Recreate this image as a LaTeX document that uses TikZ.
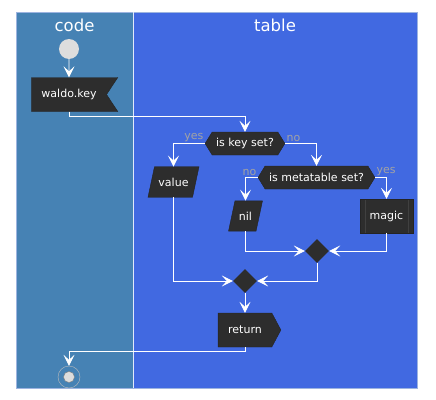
\documentclass[tikz,border=0pt]{standalone}
\usepackage{fontspec}
\setmainfont{DejaVu Sans}
\usetikzlibrary{arrows.meta,positioning,shapes.geometric,shapes.symbols}
\definecolor{CodeLane}{HTML}{4682B4}
\definecolor{TableLane}{HTML}{4169E1}
\definecolor{LaneEdge}{HTML}{9DB4E0}
\definecolor{BoxFill}{HTML}{2D2D2D}
\definecolor{Muted}{HTML}{A3A3A3}
\definecolor{Dot}{HTML}{DDDDDD}

\begin{document}
\begin{tikzpicture}[x=1pt, y=-1pt,
    box/.style={fill=BoxFill, draw=BoxFill!80!black, text=white,
      font=\fontsize{11}{12}\selectfont, minimum height=34pt,
      inner xsep=10pt, inner ysep=0pt},
    decision/.style={box, signal, signal to=west and east,
      signal pointer angle=117, minimum height=23pt, inner xsep=4pt},
    data/.style={box, trapezium, trapezium left angle=78,
      trapezium right angle=102, minimum height=0pt, inner ysep=11pt,
      inner xsep=4pt},
    sub/.style={path picture={
      \draw[black!75] ([xshift=5pt]path picture bounding box.north west)
        -- ([xshift=5pt]path picture bounding box.south west);
      \draw[black!75] ([xshift=-5pt]path picture bounding box.north east)
        -- ([xshift=-5pt]path picture bounding box.south east);}},
    merge/.style={diamond, fill=BoxFill, minimum width=24pt,
      minimum height=24pt, inner sep=0pt},
    title/.style={text=white, font=\fontsize{16.5}{18}\selectfont},
    tag/.style={text=Muted, font=\fontsize{11}{12}\selectfont, inner sep=1pt},
    flow/.style={draw=white, line width=0.9pt,
      -{Stealth[length=11pt, width=11pt, inset=5pt]}}
  ]
  \useasboundingbox (0,0) rectangle (436,399);

  % swimlanes
  \fill[CodeLane] (16,12) rectangle (133,388);
  \fill[TableLane] (133,12) rectangle (417,388);
  \draw[LaneEdge] (16,12) rectangle (417,388);
  \draw[white!85!TableLane] (133,12) -- (133,388);
  \node[title] (codeTitle) at (74.5,25) {code};
  \node[title] (tableTitle) at (275,25) {table};

  % steps
  \node[circle, fill=Dot, minimum size=20pt, inner sep=0pt] (start) at (69,49) {};
  \node[box, signal, signal to=nowhere, signal from=east,
    signal pointer angle=113] (key) at (69,94.5) {waldo.key};
  \node[decision] (isKey) at (245,143.5) {is key set?};
  \node[data] (value) at (173.5,182) {value};
  \node[decision] (isMeta) at (316.5,177.5) {is metatable set?};
  \node[data] (nil) at (245.5,216) {nil};
  \node[box, sub] (magic) at (386.5,216) {magic};
  \node[merge] (joinA) at (317,251) {};
  \node[merge] (joinB) at (245,281) {};
  \node[box, signal, signal to=east, signal pointer angle=124] (ret) at (245,330) {return};
  \node[circle, draw=Dot!85!black, minimum size=22pt, inner sep=0pt,
    path picture={\fill[Dot, draw=gray] (path picture bounding box.center)
      circle (5.5pt);}] (stop) at (69,377) {};

  % connectors
  \draw[flow] (start) -- (key);
  \draw[flow] (key.south) -- ++(0,5) -| (isKey.north);
  \draw[flow] (isKey.west) -| node[tag, pos=0, anchor=south east] {yes} (value);
  \draw[flow] (isKey.east) -| node[tag, pos=0, anchor=south west] {no} (isMeta.north);
  \draw[flow] (isMeta.west) -| node[tag, pos=0, anchor=south east] {no} (nil);
  \draw[flow] (isMeta.east) -| node[tag, pos=0, anchor=south west] {yes} (magic.north);
  \draw[flow] (nil) |- (joinA.west);
  \draw[flow] (magic.south) |- (joinA.east);
  \draw[flow] (joinA.south) |- (joinB.east);
  \draw[flow] (value) |- (joinB.west);
  \draw[flow] (joinB) -- (ret);
  \draw[flow] (ret.south) -- ++(0,4) -| (stop);
\end{tikzpicture}
\end{document}
